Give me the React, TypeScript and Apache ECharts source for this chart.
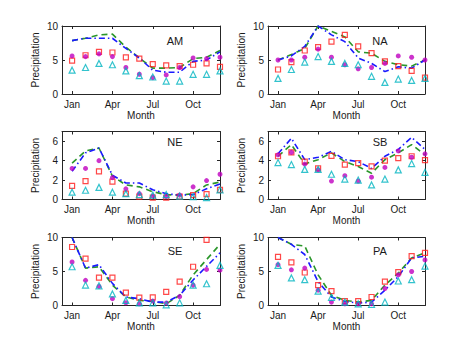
import React, { useEffect, useRef } from 'react';
import * as echarts from 'echarts';

const monthPos = [1, 2, 3, 4, 5, 6, 7, 8, 9, 10, 11, 12];
const xTickPos = [1, 4, 7, 10];
const xTickNames = ['Jan', 'Apr', 'Jul', 'Oct'];
const yTicksTen = [0, 5, 10];
const yTicksSeven = [0, 2, 4, 6];
const regionNames = ['AM', 'NA', 'NE', 'SB', 'SE', 'PA'];
const regionYMax = [10, 10, 7, 7, 10, 10];

const amGreen = [7.85, 8.2, 8.7, 8.8, 6.9, 5.3, 3.8, 3.8, 3.9, 5.2, 5.4, 6.4];
const amBlue = [7.85, 8.2, 8.2, 8.2, 6.7, 5.3, 3.5, 3.2, 3.2, 4.8, 5.0, 6.2];
const amRed = [4.9, 5.7, 6.2, 6.1, 5.4, 5.2, 4.4, 4.2, 4.1, 4.3, 4.5, 4.0];
const amMagenta = [5.6, 5.5, 5.9, 5.5, 3.9, 2.9, 2.4, 2.8, 3.9, 5.3, 5.2, 5.4];
const amCyan = [3.5, 3.9, 4.5, 4.3, 3.4, 2.7, 2.5, 1.9, 1.9, 2.9, 2.9, 3.4];

const naGreen = [5.0, 5.8, 6.7, 10.0, 9.2, 8.4, 6.2, 6.0, 4.8, 4.3, 4.1, 5.0];
const naBlue = [5.0, 5.6, 7.0, 10.0, 8.7, 7.7, 5.3, 4.5, 3.3, 4.0, 3.8, 5.0];
const naRed = [3.6, 4.7, 6.4, 6.9, 7.7, 8.7, 7.0, 6.0, 4.8, 4.1, 3.4, 2.4];
const naMagenta = [5.0, 5.0, 5.4, 6.6, 5.4, 4.3, 3.7, 3.9, 4.5, 5.6, 5.4, 5.0];
const naCyan = [2.3, 3.6, 4.7, 5.5, 4.8, 4.5, 4.3, 2.6, 1.7, 2.2, 2.0, 2.3];

const neGreen = [3.75, 5.0, 5.3, 2.4, 1.5, 1.3, 0.8, 0.5, 0.45, 0.6, 1.5, 1.8];
const neBlue = [2.9, 4.8, 5.3, 2.5, 1.7, 1.7, 1.0, 0.6, 0.45, 0.5, 1.1, 1.6];
const neRed = [1.4, 1.9, 2.9, 1.85, 0.6, 0.3, 0.2, 0.2, 0.3, 0.45, 0.55, 1.0];
const neMagenta = [3.2, 3.2, 4.0, 2.25, 1.1, 0.6, 0.35, 0.3, 0.45, 1.3, 1.95, 2.6];
const neCyan = [0.75, 0.95, 1.25, 0.75, 0.6, 0.5, 0.45, 0.5, 0.35, 0.3, 0.2, 1.0];

const sbGreen = [4.45, 5.65, 3.65, 4.1, 4.8, 3.9, 3.4, 2.7, 4.1, 4.8, 5.65, 4.6];
const sbBlue = [4.7, 6.3, 4.1, 4.35, 4.95, 4.1, 3.9, 3.2, 4.45, 5.15, 6.4, 5.15];
const sbRed = [4.45, 4.85, 3.9, 3.2, 4.5, 3.6, 3.75, 3.4, 4.0, 4.25, 4.45, 4.05];
const sbMagenta = [4.6, 4.85, 3.65, 3.05, 1.9, 2.45, 1.9, 2.3, 3.3, 5.0, 4.35, 4.7];
const sbCyan = [3.8, 3.6, 3.1, 3.1, 2.6, 2.1, 2.0, 1.5, 2.1, 3.05, 3.7, 2.8];

const seGreen = [10.0, 5.5, 5.7, 3.0, 1.25, 0.75, 0.6, 0.25, 1.5, 4.5, 6.75, 9.0];
const seBlue = [10.0, 5.5, 6.0, 3.25, 1.25, 1.0, 0.5, 0.5, 1.5, 3.75, 5.75, 7.75];
const seRed = [8.6, 6.9, 4.1, 4.1, 1.9, 1.15, 1.2, 2.0, 3.5, 5.7, 9.65, null];
const seMagenta = [6.4, 3.7, 2.8, 1.0, 0.4, 0.25, 0.65, 0.35, 1.3, 3.0, 5.3, 5.2];
const seCyan = [5.7, 3.0, 2.9, 1.7, 0.75, 0.4, 0.4, 0.1, 0.4, 3.0, 3.2, 5.9];

const paGreen = [10.0, 9.0, 8.75, 4.5, 1.5, 0.75, 0.5, 0.75, 3.0, 4.75, 7.0, 7.75];
const paBlue = [10.0, 9.0, 7.5, 3.5, 1.25, 0.6, 0.35, 0.5, 2.25, 4.25, 7.0, 7.25];
const paRed = [7.15, 6.35, 4.85, 3.0, 2.1, 0.65, 0.65, 1.25, 3.5, 4.9, 7.25, 7.75];
const paMagenta = [6.0, 5.25, 5.5, 2.25, 0.5, 0.25, 0.25, 0.25, 2.5, 4.5, 5.0, 6.7];
const paCyan = [5.9, 4.05, 3.8, 2.1, 1.2, 0.5, 0.25, 0.15, 0.5, 3.6, 3.8, 5.8];

const regionSeries = [
  [amGreen, amBlue, amRed, amMagenta, amCyan],
  [naGreen, naBlue, naRed, naMagenta, naCyan],
  [neGreen, neBlue, neRed, neMagenta, neCyan],
  [sbGreen, sbBlue, sbRed, sbMagenta, sbCyan],
  [seGreen, seBlue, seRed, seMagenta, seCyan],
  [paGreen, paBlue, paRed, paMagenta, paCyan],
];

const FONT = 'Liberation Sans, Arial, Helvetica, sans-serif';
const AXIS_COLOR = '#262626';
const TEXT_COLOR = '#1a1a1a';

const gridLefts = [62, 268];
const gridWidths = [158, 157];
const gridTops = [26, 131.5, 237.5];
const gridHeight = 68;
const titleX = [175, 380];
const titleY = [40.5, 141.5, 250.5];

function buildOption() {
  const grid: any[] = [];
  const xAxis: any[] = [];
  const yAxis: any[] = [];
  const series: any[] = [];
  const graphic: any[] = [];

  regionNames.forEach((name, i) => {
    const col = i % 2;
    const row = Math.floor(i / 2);
    grid.push({
      left: gridLefts[col],
      top: gridTops[row],
      width: gridWidths[col],
      height: gridHeight,
      containLabel: false,
    });
    const yMax = regionYMax[i];
    const yTicks = yMax === 7 ? yTicksSeven : yTicksTen;
    const lineCommon = { show: true, onZero: false, lineStyle: { color: AXIS_COLOR, width: 1 } };
    xAxis.push({
      type: 'value',
      gridIndex: i,
      position: 'bottom',
      min: 0.25,
      max: 12,
      axisLine: lineCommon,
      axisTick: { show: true, inside: true, length: 3, customValues: xTickPos, lineStyle: { color: AXIS_COLOR } },
      axisLabel: {
        show: true,
        customValues: xTickPos,
        margin: 5,
        fontSize: 10,
        fontFamily: FONT,
        color: TEXT_COLOR,
        formatter: (v: number) => xTickNames[xTickPos.indexOf(v)] ?? '',
      },
      splitLine: { show: false },
      name: 'Month',
      nameLocation: 'middle',
      nameGap: 16,
      nameTextStyle: { fontSize: 10, fontFamily: FONT, color: TEXT_COLOR },
    });
    xAxis.push({
      type: 'value',
      gridIndex: i,
      position: 'top',
      min: 0.25,
      max: 12,
      axisLine: lineCommon,
      axisTick: { show: true, inside: true, length: 3, customValues: xTickPos, lineStyle: { color: AXIS_COLOR } },
      axisLabel: { show: false },
      splitLine: { show: false },
    });
    yAxis.push({
      type: 'value',
      gridIndex: i,
      position: 'left',
      min: 0,
      max: yMax,
      axisLine: lineCommon,
      axisTick: { show: true, inside: true, length: 3, customValues: yTicks, lineStyle: { color: AXIS_COLOR } },
      axisLabel: {
        show: true,
        customValues: yTicks,
        margin: 4,
        fontSize: 10,
        fontFamily: FONT,
        color: TEXT_COLOR,
      },
      splitLine: { show: false },
      name: 'Precipitation',
      nameLocation: 'middle',
      nameGap: 22,
      nameTextStyle: { fontSize: 10, fontFamily: FONT, color: TEXT_COLOR },
    });
    yAxis.push({
      type: 'value',
      gridIndex: i,
      position: 'right',
      min: 0,
      max: yMax,
      axisLine: lineCommon,
      axisTick: { show: true, inside: true, length: 3, customValues: yTicks, lineStyle: { color: AXIS_COLOR } },
      axisLabel: { show: false },
      splitLine: { show: false },
    });

    const [g, b, r, m, c] = regionSeries[i];
    const toData = (arr: (number | null)[]) => monthPos.map((x, k) => [x, arr[k]]);
    const axisRef = { xAxisIndex: 2 * i, yAxisIndex: 2 * i };
    series.push({
      type: 'line',
      ...axisRef,
      data: toData(g),
      symbol: 'none',
      lineStyle: { color: '#2a962a', width: 1.6, type: [6, 4] },
      clip: true,
      z: 2,
    });
    series.push({
      type: 'line',
      ...axisRef,
      data: toData(b),
      symbol: 'none',
      lineStyle: { color: '#1a1aff', width: 1.6, type: [6, 3, 1.5, 3] },
      clip: true,
      z: 2,
    });
    series.push({
      type: 'scatter',
      ...axisRef,
      data: toData(r),
      symbol: 'rect',
      symbolSize: 5,
      itemStyle: { color: 'rgba(255,255,255,0)', borderColor: '#ff1a1a', borderWidth: 1.2 },
      clip: true,
      z: 3,
    });
    series.push({
      type: 'scatter',
      ...axisRef,
      data: toData(m),
      symbol: 'circle',
      symbolSize: 5,
      itemStyle: { color: '#bf00bf' },
      clip: true,
      z: 3,
    });
    series.push({
      type: 'scatter',
      ...axisRef,
      data: toData(c),
      symbol: 'triangle',
      symbolSize: 6,
      itemStyle: { color: 'rgba(255,255,255,0)', borderColor: '#00b4c0', borderWidth: 1.2 },
      clip: true,
      z: 3,
    });

    graphic.push({
      type: 'text',
      x: titleX[col],
      y: titleY[row],
      style: {
        text: name,
        fontSize: 11,
        fontFamily: FONT,
        fill: TEXT_COLOR,
        textAlign: 'center',
        textVerticalAlign: 'middle',
      },
      z: 10,
    });
  });

  return {
    animation: false,
    backgroundColor: '#ffffff',
    grid,
    xAxis,
    yAxis,
    series,
    graphic,
  };
}

export default function App() {
  const ref = useRef<HTMLDivElement>(null);
  useEffect(() => {
    if (!ref.current) return;
    const chart = echarts.init(ref.current, undefined, { renderer: 'svg' });
    chart.setOption(buildOption() as any);
    return () => chart.dispose();
  }, []);
  return (
    <div
      ref={ref}
      style={{ position: 'absolute', left: 0, top: 0, width: 470, height: 354, background: '#fff' }}
    />
  );
}
